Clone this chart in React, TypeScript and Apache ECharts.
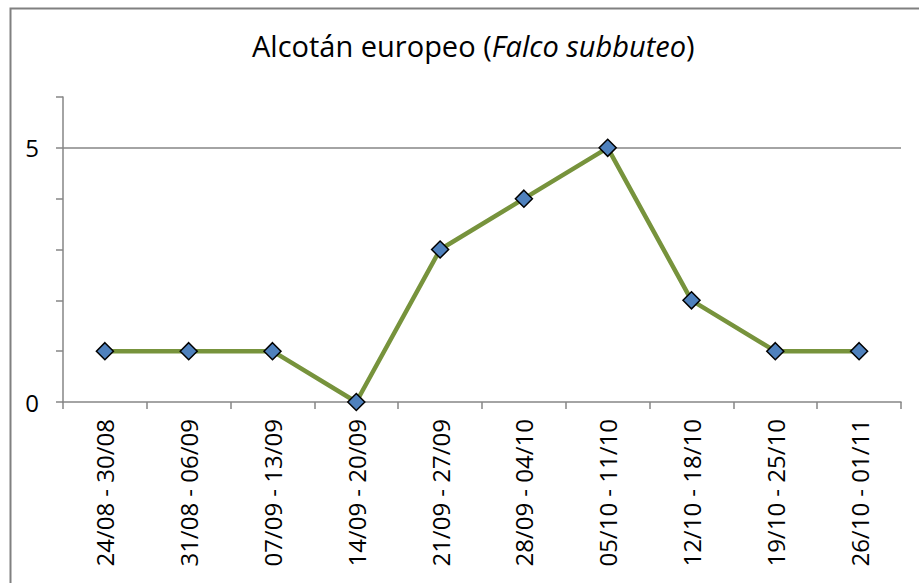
import React, { useEffect, useRef } from "react";
import * as echarts from "echarts";

const categories: string[] = [
  "24/08 - 30/08",
  "31/08 - 06/09",
  "07/09 - 13/09",
  "14/09 - 20/09",
  "21/09 - 27/09",
  "28/09 - 04/10",
  "05/10 - 11/10",
  "12/10 - 18/10",
  "19/10 - 25/10",
  "26/10 - 01/11",
];
const counts: number[] = [1, 1, 1, 0, 3, 4, 5, 2, 1, 1];
const yLabelValues: number[] = [0, 5];
const gridLineValue = 5;

const FONT = "'Open Sans', 'Noto Sans', sans-serif";
const AXIS_COLOR = "#868686";

export default function App() {
  const ref = useRef<HTMLDivElement>(null);
  useEffect(() => {
    if (!ref.current) return;
    const chart = echarts.init(ref.current, null, { renderer: "svg" });
    chart.setOption({
      animation: false,
      backgroundColor: "#ffffff",
      title: {
        text: "Alcotán europeo ({i|Falco subbuteo})",
        left: 247,
        top: 26,
        textStyle: {
          fontFamily: FONT,
          fontSize: 29,
          fontWeight: "normal",
          color: "#000",
          rich: {
            i: {
              fontFamily: FONT,
              fontSize: 29,
              fontStyle: "italic",
              color: "#000",
            },
          },
        },
      },
      graphic: [
        {
          type: "rect",
          left: 8,
          top: 6,
          shape: { x: 0, y: 0, width: 1000, height: 1000 },
          style: { fill: "none", stroke: "#808080", lineWidth: 2 },
          silent: true,
        },
      ],
      grid: { left: 63, right: 18, top: 97, bottom: 181, containLabel: false },
      xAxis: {
        type: "category",
        data: categories,
        boundaryGap: true,
        axisLine: { show: true, lineStyle: { color: AXIS_COLOR, width: 1.5 } },
        axisTick: { show: true, alignWithLabel: false, length: 7, lineStyle: { color: AXIS_COLOR, width: 1.5 } },
        axisLabel: {
          rotate: 90,
          margin: 17,
          interval: 0,
          fontFamily: FONT,
          fontSize: 24,
          color: "#000",
        },
        splitLine: { show: false },
      },
      yAxis: {
        type: "value",
        min: 0,
        max: 6,
        interval: 1,
        axisLine: { show: true, lineStyle: { color: AXIS_COLOR, width: 1.5 } },
        axisTick: { show: true, length: 7, lineStyle: { color: AXIS_COLOR, width: 1.5 } },
        axisLabel: {
          margin: 24,
          fontFamily: FONT,
          fontSize: 24,
          color: "#000",
          formatter: (v: number) => (yLabelValues.includes(v) ? String(v) : ""),
        },
        splitLine: { show: false },
      },
      series: [
        {
          type: "line",
          data: counts,
          symbol: "diamond",
          symbolSize: 17,
          lineStyle: { color: "#77933C", width: 4.5 },
          itemStyle: { color: "#4F81BD", borderColor: "#000", borderWidth: 1.5 },
          z: 3,
          markLine: {
            silent: true,
            symbol: "none",
            label: { show: false },
            lineStyle: { color: AXIS_COLOR, width: 1.5, type: "solid" },
            data: [{ yAxis: gridLineValue }],
            z: 1,
          },
        },
      ],
    });
    return () => chart.dispose();
  }, []);
  return (
    <div
      ref={ref}
      style={{ position: "fixed", left: 0, top: 0, width: 919, height: 583 }}
    />
  );
}
